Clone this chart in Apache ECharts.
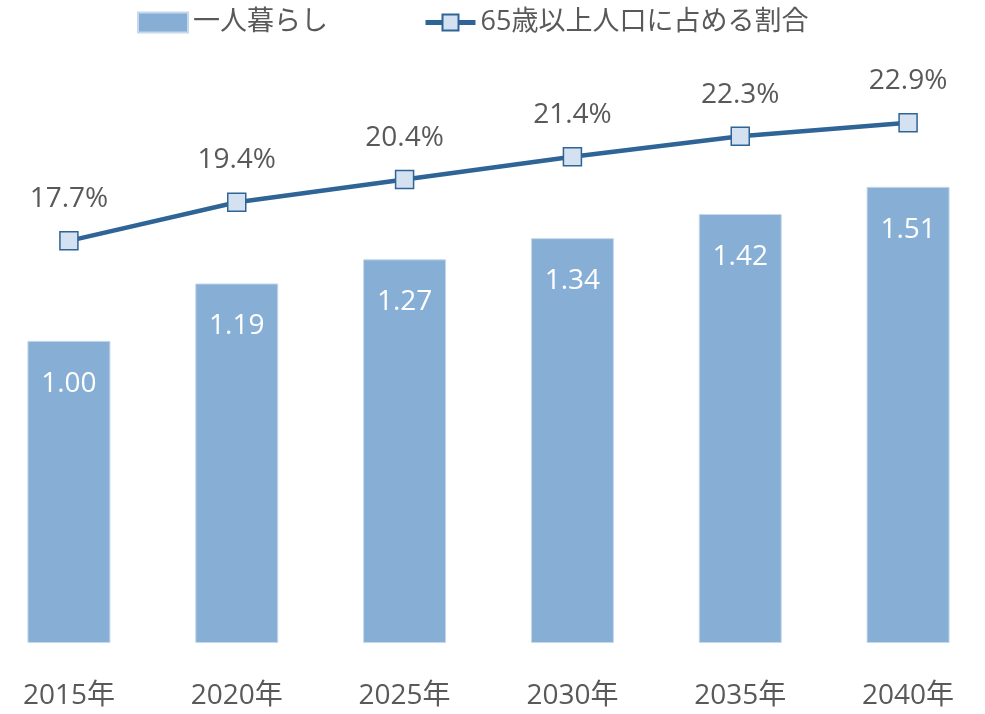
<!DOCTYPE html>
<html>
<head>
<meta charset="utf-8">
<script src="https://cdn.jsdelivr.net/npm/echarts@6/dist/echarts.min.js"></script>
<style>
  html, body { margin: 0; padding: 0; background: #fff; }
  #main { width: 985px; height: 714px; }
</style>
</head>
<body>
<div id="main"></div>
<script>
// 年次
var years = ['2015年', '2020年', '2025年', '2030年', '2035年', '2040年'];
// 一人暮らし（2015年=1.00）
var aloneIndex = [1.00, 1.19, 1.27, 1.34, 1.42, 1.51];
// 65歳以上人口に占める割合（%）
var elderShare = [17.7, 19.4, 20.4, 21.4, 22.3, 22.9];

var font = '"Open Sans", "Noto Sans CJK JP", sans-serif';

var myChart = echarts.init(document.getElementById('main'));
var option = {
  backgroundColor: '#ffffff',
  animation: false,
  textStyle: { fontFamily: font },
  legend: {
    top: 4,
    left: 132,
    itemWidth: 50,
    itemHeight: 20,
    itemGap: 95,
    lineStyle: { width: 5 },
    textStyle: { fontSize: 27, color: '#595959', fontFamily: font },
    data: [
      { name: '一人暮らし', icon: 'rect' },
      { name: '65歳以上人口に占める割合' }
    ]
  },
  grid: {
    left: -15,
    right: -7,
    top: 75,
    bottom: 71,
    outerBoundsMode: 'none'
  },
  xAxis: {
    type: 'category',
    data: years,
    axisLine: { show: false },
    axisTick: { show: false },
    axisLabel: { fontSize: 28, color: '#595959', margin: 39, fontFamily: font }
  },
  yAxis: [
    { type: 'value', min: 0, max: 1.88, show: false, splitLine: { show: false } },
    { type: 'value', min: 0, max: 25, show: false, splitLine: { show: false } }
  ],
  series: [
    {
      name: '一人暮らし',
      type: 'bar',
      yAxisIndex: 0,
      barWidth: 83,
      data: aloneIndex,
      itemStyle: { color: '#87afd6', borderColor: '#c6d8ec', borderWidth: 1 },
      label: {
        show: true,
        position: 'insideTop',
        distance: 29,
        fontSize: 28,
        color: '#ffffff',
        fontFamily: font,
        formatter: function (p) { return p.value.toFixed(2); }
      }
    },
    {
      name: '65歳以上人口に占める割合',
      type: 'line',
      yAxisIndex: 1,
      data: elderShare,
      symbol: 'rect',
      symbolSize: 18,
      lineStyle: { color: '#2f6496', width: 4.5 },
      itemStyle: { color: '#d3e1f0', borderColor: '#2f6496', borderWidth: 1.5 },
      label: {
        show: true,
        position: 'top',
        distance: 18,
        fontSize: 28,
        color: '#595959',
        fontFamily: font,
        formatter: function (p) { return p.value.toFixed(1) + '%'; }
      },
      z: 3
    }
  ]
};
myChart.setOption(option);
</script>
</body>
</html>
